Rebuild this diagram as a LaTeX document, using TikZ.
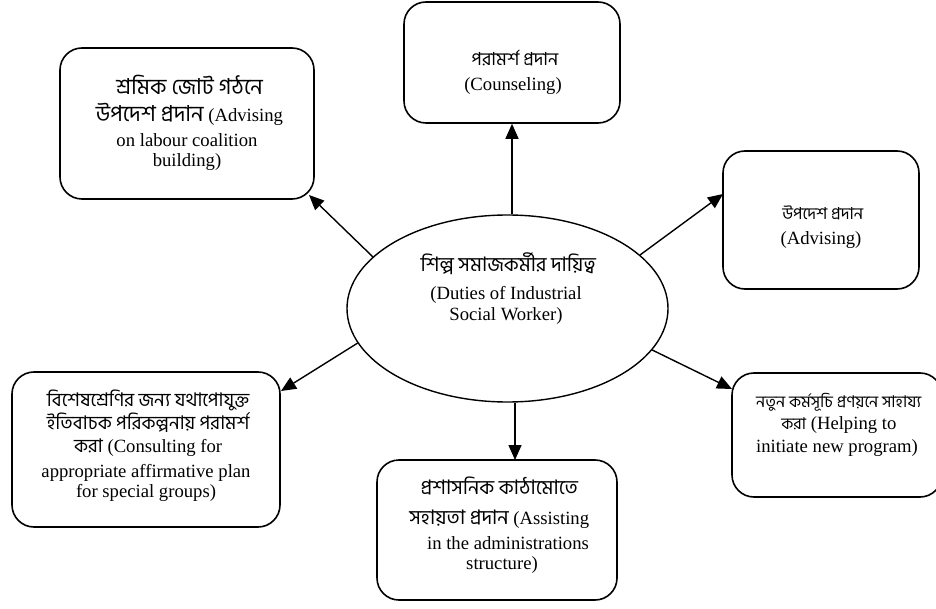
\documentclass[tikz,border=0pt]{standalone}
\usepackage{fontspec}
\setmainfont{Liberation Serif}
\newfontfamily\bn[Script=Bengali]{Hind Siliguri}
\usetikzlibrary{arrows.meta,shapes.geometric}
\newcommand\bnsize[1]{\bn\fontsize{#1}{#1}\selectfont}
\tikzset{
  boxst/.style={draw, line width=1.6pt, rounded corners=22pt, inner sep=0pt},
  ellst/.style={draw, ellipse, line width=1.4pt, inner sep=0pt},
  arr/.style={line width=1.4pt, -{Triangle[length=15pt,width=13pt]}},
  tx/.style={anchor=base, inner sep=0pt, font=\fontsize{18.67}{21}\selectfont},
}
\begin{document}
\begin{tikzpicture}[x=1pt,y=-1pt]
\useasboundingbox (0,0) rectangle (936,609);
% boxes
\node[boxst, minimum width=254pt, minimum height=151pt] (tl) at (187,123.5) {};
\node[boxst, minimum width=216pt, minimum height=121pt] (top) at (512,62.5) {};
\node[boxst, minimum width=196pt, minimum height=138pt] (rt) at (821,220) {};
\node[boxst, minimum width=268pt, minimum height=155pt] (bl) at (146,449.5) {};
\node[boxst, minimum width=240pt, minimum height=140pt] (bot) at (497,530) {};
\node[boxst, minimum width=210pt, minimum height=124pt] (br) at (837,435) {};
\node[ellst, minimum width=321pt, minimum height=187pt] (ce) at (507.5,308.5) {};
% arrow tips
\coordinate (a1) at (309,195);
\coordinate (a3) at (723,194);
\coordinate (a4) at (281,391);
\coordinate (a5) at (515,460);
\coordinate (a6) at (732,389);
\draw[arr] (ce.159) -- (a1);
\draw[arr] (ce.north -| top.south) -- (top.south);
\draw[arr] (ce.22) -- (a3);
\draw[arr] (ce.193) -- (a4);
\draw[arr] (ce.south -| a5) -- (a5);
\draw[arr] (ce.344) -- (a6);
% texts
\node[tx] (tl1) at (187,95) {\bnsize{22} শ্রমিক জোট গঠনে};
\node[tx] (tl2) at (187,122) {{\bnsize{22} উপদেশ প্রদান} (Advising};
\node[tx] (tl3) at (187,147) {on labour coalition};
\node[tx] (tl4) at (187,167) {building)};
\node[tx] (tp1) at (513,66) {\bnsize{18} পরামর্শ প্রদান};
\node[tx] (tp2) at (513,91) {(Counseling)};
\node[tx] (rt1) at (821,220) {\bnsize{16.5} উপদেশ প্রদান};
\node[tx] (rt2) at (821,245) {(Advising)};
\node[tx] (ce1) at (506,272) {\bnsize{20} শিল্প সমাজকর্মীর দায়িত্ব};
\node[tx] (ce2) at (506,300) {(Duties of Industrial};
\node[tx] (ce3) at (506,320) {Social Worker)};
\node[tx] (bl1) at (146,406) {\bnsize{18.8} বিশেষশ্রেণির জন্য যথাপোযুক্ত};
\node[tx] (bl2) at (146,429) {\bnsize{18.8} ইতিবাচক পরিকল্পনায় পরামর্শ};
\node[tx] (bl3) at (146,452) {{\bnsize{18.8} করা} (Consulting for};
\node[tx] (bl4) at (146,477) {appropriate affirmative plan};
\node[tx] (bl5) at (146,497) {for special groups)};
\node[tx] (bt1) at (497,494) {\bnsize{20} প্রশাসনিক কাঠামোতে};
\node[tx] (bt2) at (497,524) {{\bnsize{20} সহায়তা প্রদান} (Assisting};
\node[tx] (bt3) at (508,549) {in the administrations};
\node[tx] (bt4) at (502,569) {structure)};
\node[tx] (br1) at (837,407) {\bnsize{16.2} নতুন কর্মসূচি প্রণয়নে সাহায্য};
\node[tx] (br2) at (837,429) {{\bnsize{16.2} করা} (Helping to};
\node[tx] (br3) at (837,452) {initiate new program)};
\end{tikzpicture}
\end{document}
